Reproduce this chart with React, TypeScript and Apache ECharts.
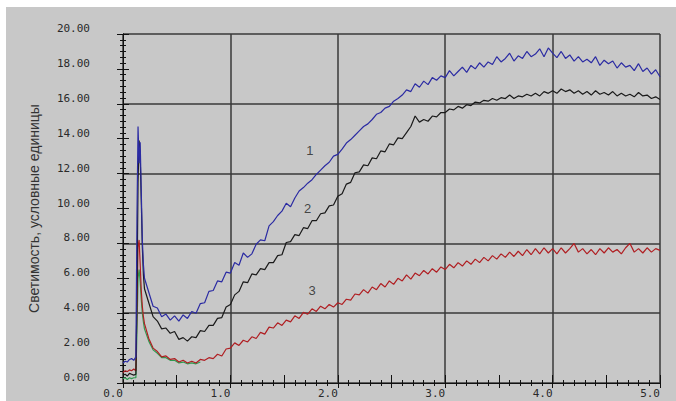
import React, { useEffect, useRef } from "react";
import * as echarts from "echarts";

// time axis (x), shared by all curves
const times = [
  0, 0.02, 0.04, 0.06, 0.08, 0.1, 0.12, 0.13, 0.14, 0.15, 0.16, 0.17, 0.18, 0.19, 0.2,
  0.24, 0.28, 0.32, 0.36, 0.4, 0.44, 0.48, 0.52, 0.56, 0.6,
  0.64, 0.68, 0.72, 0.76, 0.8, 0.84, 0.88, 0.92, 0.96, 1.0,
  1.04, 1.08, 1.12, 1.16, 1.2, 1.24, 1.28, 1.32, 1.36, 1.4,
  1.44, 1.48, 1.52, 1.56, 1.6, 1.64, 1.68, 1.72, 1.76, 1.8,
  1.84, 1.88, 1.92, 1.96, 2.0, 2.04, 2.08, 2.12, 2.16, 2.2,
  2.24, 2.28, 2.32, 2.36, 2.4, 2.44, 2.48, 2.52, 2.56, 2.6,
  2.64, 2.68, 2.72, 2.76, 2.8, 2.84, 2.88, 2.92, 2.96, 3.0,
  3.04, 3.08, 3.12, 3.16, 3.2, 3.24, 3.28, 3.32, 3.36, 3.4,
  3.44, 3.48, 3.52, 3.56, 3.6, 3.64, 3.68, 3.72, 3.76, 3.8,
  3.84, 3.88, 3.92, 3.96, 4.0, 4.04, 4.08, 4.12, 4.16, 4.2,
  4.24, 4.28, 4.32, 4.36, 4.4, 4.44, 4.48, 4.52, 4.56, 4.6,
  4.64, 4.68, 4.72, 4.76, 4.8, 4.84, 4.88, 4.92, 4.96, 5.0,
];

// curve 1 (blue)
const curve1 = [
  1.15, 1.25, 1.2, 1.35, 1.4, 1.3, 1.5, 9.5, 14.7, 12.6, 13.8, 11.0, 8.2, 6.8, 6.0,
  5.2, 4.4, 4.3, 3.8, 3.95, 3.6, 3.85, 3.55, 3.9, 3.7,
  4.1, 4.0, 4.55, 4.6, 5.25, 5.3, 5.85, 5.8, 6.35, 6.3,
  6.9, 6.75, 7.45, 7.2, 7.4, 7.95, 8.2, 8.15, 9.0, 9.25,
  9.6, 9.85, 10.3, 10.1, 10.6, 11.0, 11.2, 11.45, 11.65, 11.95,
  12.2, 12.45, 12.65, 13.0, 13.1, 13.4, 13.75, 13.95, 14.2, 14.45,
  14.7, 14.85, 15.1, 15.4, 15.5, 15.75, 15.85, 16.15, 16.3, 16.5,
  16.8, 16.7, 17.15, 16.95, 17.3, 17.1, 17.5, 17.35, 17.6, 17.5,
  17.9, 17.6, 17.85, 18.1, 17.8, 18.2, 18.0, 18.35, 18.1, 18.4,
  18.25, 18.7, 18.4, 18.6, 18.9, 18.45, 18.75, 18.6, 19.0, 18.7,
  18.85, 19.15, 18.7, 19.2, 18.9, 18.65, 19.0, 18.6, 18.8, 18.45,
  18.7, 18.4, 18.55, 18.35, 18.7, 18.2, 18.5, 18.3, 18.45, 18.05,
  18.35, 18.1, 18.2, 17.9, 18.3, 17.85, 18.05, 17.7, 17.95, 17.55,
];

// curve 2 (black)
const curve2 = [
  0.45, 0.5, 0.4, 0.55, 0.5, 0.45, 0.5, 5.0, 11.5, 13.9, 13.0, 10.5, 7.8, 6.2, 5.4,
  4.6, 3.8, 3.55, 3.1, 3.15, 2.85, 2.95, 2.5, 2.6, 2.4,
  2.65, 2.6, 3.0, 2.95, 3.3, 3.3, 3.7, 3.75, 4.35, 4.5,
  5.05, 5.25, 5.8, 5.75, 6.25, 6.2, 6.55, 6.5, 6.9, 6.9,
  7.3, 7.35, 8.05, 8.1, 8.5, 8.45, 8.9, 8.85, 9.3, 9.3,
  9.7, 9.75, 10.15, 10.2, 10.7, 10.85, 11.4, 11.5, 12.05, 12.1,
  12.5, 12.45, 12.9, 12.85, 13.3, 13.25, 13.7, 13.65, 14.05, 14.0,
  14.35, 14.7, 15.3, 14.95, 15.1, 15.0, 15.3, 15.25, 15.5, 15.5,
  15.7, 15.65, 15.85, 15.75, 15.95, 15.9, 16.1, 16.05, 16.2, 16.15,
  16.3, 16.2, 16.35, 16.3, 16.5, 16.3, 16.45, 16.4, 16.55, 16.45,
  16.6, 16.45, 16.7, 16.6, 16.75, 16.6, 16.85, 16.7, 16.8, 16.6,
  16.75, 16.55, 16.7, 16.5, 16.75, 16.55, 16.65, 16.5, 16.7, 16.45,
  16.6, 16.45, 16.55, 16.4, 16.65, 16.45, 16.5, 16.3, 16.4, 16.25,
];

// curve 3 (red)
const curve3 = [
  0.6, 0.7, 0.65, 0.75, 0.7, 0.8, 0.7, 4.5, 7.8, 8.2, 6.8, 5.3, 4.4, 3.8, 3.4,
  2.55, 2.0, 1.8, 1.5, 1.55, 1.35, 1.4, 1.2, 1.3, 1.15,
  1.25, 1.15, 1.35, 1.3, 1.45, 1.4, 1.65, 1.55, 1.95, 2.0,
  2.3, 2.15, 2.45, 2.35, 2.65, 2.55, 2.9, 2.8, 3.2, 3.15,
  3.45, 3.3, 3.6, 3.5, 3.85, 3.7, 4.05, 3.95, 4.25, 4.1,
  4.4, 4.25, 4.5, 4.35, 4.6, 4.5, 4.8, 4.75, 5.1, 5.05,
  5.35, 5.15, 5.5, 5.35, 5.7, 5.5, 5.85, 5.65, 6.0, 5.85,
  6.2, 5.95, 6.3, 6.15, 6.45, 6.25, 6.55, 6.35, 6.65, 6.5,
  6.8, 6.6, 6.9, 6.7, 7.0, 6.8, 7.1, 6.9, 7.2, 7.0,
  7.3, 7.1, 7.4, 7.2, 7.5, 7.25, 7.55, 7.3, 7.65, 7.35,
  7.7, 7.4, 7.75, 7.45, 7.7, 7.4, 7.75, 7.45, 7.7, 8.0,
  7.5, 7.7, 7.4, 7.65, 7.35, 7.7, 7.45, 7.75, 7.5, 7.65,
  7.4, 7.75, 8.0, 7.5, 7.7, 7.45, 7.75, 7.5, 7.7, 7.6,
];

// green trace (only the early part, up to 0.72)
const curveGreen = [
  0.25, 0.3, 0.2, 0.3, 0.25, 0.3, 0.3, 3.0, 6.0, 6.5, 5.8, 4.8, 4.0, 3.5, 3.1,
  2.4, 1.9, 1.7, 1.45, 1.45, 1.3, 1.3, 1.15, 1.2, 1.1,
  1.15, 1.1, 1.2,
];

// curve number labels (data coordinates)
const labelNames = ["1", "2", "3"];
const labelX = [1.74, 1.72, 1.76];
const labelY = [13.35, 10.0, 5.3];

const pairs = (vals: number[]) => vals.map((v, i) => [times[i], v]);

export default function App() {
  const ref = useRef<HTMLDivElement>(null);
  useEffect(() => {
    const chart = echarts.init(ref.current!, null, { renderer: "svg" });
    const monoLabel = {
      fontFamily: "DejaVu Sans Mono",
      fontSize: 11,
      color: "#2a2a2a",
    };
    const lineSeries = (name: string, vals: number[], color: string) => ({
      name,
      type: "line",
      data: pairs(vals),
      showSymbol: false,
      symbol: "none",
      xAxisIndex: 0,
      yAxisIndex: 0,
      lineStyle: { color, width: 1.2 },
      z: 3,
    });
    chart.setOption({
      animation: false,
      backgroundColor: "#ffffff",
      graphic: [
        {
          type: "rect",
          z: -100,
          silent: true,
          shape: { x: 6, y: 7, width: 670, height: 394 },
          style: { fill: "#c8c8c8" },
        },
      ],
      grid: { left: 123, right: 16, top: 34, bottom: 18 },
      xAxis: [
        {
          type: "value",
          position: "bottom",
          min: 0,
          max: 5,
          interval: 1,
          axisLine: { show: true, lineStyle: { color: "#111", width: 1 } },
          axisTick: { show: true, inside: true, length: 5, lineStyle: { color: "#111" } },
          minorTick: { show: true, splitNumber: 10, length: 3, lineStyle: { color: "#111" } },
          splitLine: { show: true, lineStyle: { color: "#3a3a3a", width: 1.5 } },
          axisLabel: {
            ...monoLabel,
            align: "right",
            margin: 5,
            formatter: (v: number) => v.toFixed(1),
          },
        },
        {
          type: "value",
          position: "top",
          min: 0,
          max: 5,
          interval: 0.5,
          axisLine: { show: true, lineStyle: { color: "#111", width: 1 } },
          axisTick: { show: true, inside: true, length: 5, lineStyle: { color: "#111" } },
          minorTick: { show: true, splitNumber: 5, length: 3, lineStyle: { color: "#111" } },
          splitLine: { show: false },
          axisLabel: { show: false },
        },
        {
          type: "value",
          position: "bottom",
          min: 0,
          max: 5,
          interval: 0.5,
          axisLine: { show: false },
          axisTick: { show: true, inside: true, length: 8, lineStyle: { color: "#111" } },
          splitLine: { show: false },
          axisLabel: { show: false },
        },
      ],
      yAxis: [
        {
          type: "value",
          position: "left",
          min: 0,
          max: 20,
          interval: 2,
          name: "Светимость, условные единицы",
          nameLocation: "middle",
          nameGap: 82,
          nameTextStyle: { fontFamily: "Liberation Sans", fontSize: 14, color: "#333" },
          axisLine: { show: true, lineStyle: { color: "#111", width: 1 } },
          axisTick: { show: true, inside: true, length: 6, lineStyle: { color: "#111" } },
          minorTick: { show: true, splitNumber: 6, length: 3, lineStyle: { color: "#111" } },
          splitLine: { show: false },
          axisLabel: {
            ...monoLabel,
            margin: 33,
            verticalAlign: "bottom",
            formatter: (v: number) => v.toFixed(2),
          },
        },
        {
          type: "value",
          position: "left",
          min: 0,
          max: 20,
          interval: 4,
          axisLine: { show: false },
          axisTick: { show: false },
          axisLabel: { show: false },
          splitLine: { show: true, lineStyle: { color: "#3a3a3a", width: 1.5 } },
        },
        {
          type: "value",
          position: "right",
          min: 0,
          max: 20,
          interval: 2,
          axisLine: { show: true, lineStyle: { color: "#111", width: 1 } },
          axisTick: { show: true, inside: true, length: 6, lineStyle: { color: "#111" } },
          minorTick: { show: true, splitNumber: 6, length: 3, lineStyle: { color: "#111" } },
          splitLine: { show: false },
          axisLabel: { show: false },
        },
      ],
      series: [
        lineSeries("green", curveGreen, "#2e9a50"),
        lineSeries("3", curve3, "#b01e22"),
        lineSeries("2", curve2, "#1a1a1a"),
        lineSeries("1", curve1, "#2b2ba3"),
        {
          type: "scatter",
          name: "labels",
          xAxisIndex: 0,
          yAxisIndex: 0,
          symbolSize: 1,
          itemStyle: { color: "rgba(0,0,0,0)" },
          z: 5,
          label: {
            show: true,
            position: "inside",
            formatter: (p: any) => p.name,
            fontFamily: "Liberation Sans",
            fontSize: 13,
            color: "#222",
          },
          data: labelNames.map((n, i) => ({ name: n, value: [labelX[i], labelY[i]] })),
        },
      ],
    });
    return () => chart.dispose();
  }, []);
  return (
    <div
      ref={ref}
      style={{ position: "absolute", left: 0, top: 0, width: 676, height: 401 }}
    />
  );
}
